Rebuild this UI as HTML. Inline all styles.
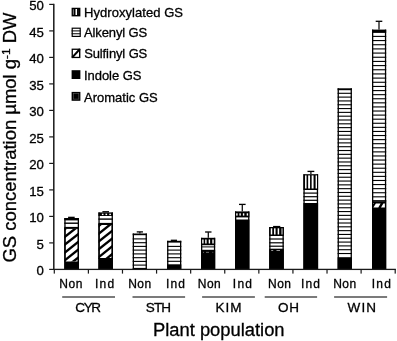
<!DOCTYPE html>
<html><head><meta charset="utf-8"><title>GS concentration</title>
<style>
html,body{margin:0;padding:0;background:#fff;}
body{width:397px;height:341px;overflow:hidden;}
svg{display:block;filter:grayscale(1);}
text{font-family:"Liberation Sans",sans-serif;fill:#000;stroke:#000;stroke-width:0.3px;}
</style></head><body>
<svg width="397" height="341" viewBox="0 0 397 341">
<rect x="0" y="0" width="397" height="341" fill="#fff"/>
<rect x="64.30" y="218.00" width="14.70" height="51.40" fill="#fff" />
<rect x="64.30" y="218.00" width="1.30" height="51.40" fill="#000" />
<rect x="77.70" y="218.00" width="1.30" height="51.40" fill="#000" />
<rect x="64.30" y="218.00" width="14.70" height="2.40" fill="#000" />
<rect x="64.30" y="222.50" width="14.70" height="1.40" fill="#000" />
<rect x="64.30" y="226.90" width="14.70" height="2.00" fill="#000" />
<clipPath id="h1"><rect x="64.30" y="228.90" width="14.70" height="32.70"/></clipPath>
<g clip-path="url(#h1)">
<polygon points="64.30,220.20 79.00,208.60 79.00,211.60 64.30,223.20" fill="#000"/>
<polygon points="64.30,228.00 79.00,216.40 79.00,219.40 64.30,231.00" fill="#000"/>
<polygon points="64.30,235.80 79.00,224.20 79.00,227.20 64.30,238.80" fill="#000"/>
<polygon points="64.30,243.60 79.00,232.00 79.00,235.00 64.30,246.60" fill="#000"/>
<polygon points="64.30,251.40 79.00,239.80 79.00,242.80 64.30,254.40" fill="#000"/>
<polygon points="64.30,259.20 79.00,247.60 79.00,250.60 64.30,262.20" fill="#000"/>
<polygon points="64.30,267.00 79.00,255.40 79.00,258.40 64.30,270.00" fill="#000"/>
<polygon points="64.30,274.80 79.00,263.20 79.00,266.20 64.30,277.80" fill="#000"/>
</g>
<rect x="64.30" y="228.00" width="1.30" height="34.00" fill="#000" />
<rect x="77.70" y="228.00" width="1.30" height="34.00" fill="#000" />
<rect x="64.30" y="261.50" width="14.70" height="7.90" fill="#000" />
<rect x="68.10" y="216.70" width="6.60" height="1.40" fill="#000" />
<rect x="98.40" y="212.40" width="14.50" height="57.00" fill="#fff" />
<rect x="98.40" y="212.40" width="1.30" height="57.00" fill="#000" />
<rect x="111.60" y="212.40" width="1.30" height="57.00" fill="#000" />
<rect x="98.40" y="212.40" width="14.50" height="3.60" fill="#000" />
<rect x="101.90" y="213.70" width="1.60" height="1.40" fill="#fff" />
<rect x="105.50" y="213.70" width="1.60" height="1.40" fill="#fff" />
<rect x="109.30" y="213.70" width="1.60" height="1.40" fill="#fff" />
<rect x="98.40" y="218.40" width="14.50" height="1.40" fill="#000" />
<rect x="98.40" y="222.90" width="14.50" height="2.10" fill="#000" />
<clipPath id="h2"><rect x="98.40" y="225.00" width="14.50" height="33.10"/></clipPath>
<g clip-path="url(#h2)">
<polygon points="98.40,216.90 112.90,205.30 112.90,208.30 98.40,219.90" fill="#000"/>
<polygon points="98.40,224.70 112.90,213.10 112.90,216.10 98.40,227.70" fill="#000"/>
<polygon points="98.40,232.50 112.90,220.90 112.90,223.90 98.40,235.50" fill="#000"/>
<polygon points="98.40,240.30 112.90,228.70 112.90,231.70 98.40,243.30" fill="#000"/>
<polygon points="98.40,248.10 112.90,236.50 112.90,239.50 98.40,251.10" fill="#000"/>
<polygon points="98.40,255.90 112.90,244.30 112.90,247.30 98.40,258.90" fill="#000"/>
<polygon points="98.40,263.70 112.90,252.10 112.90,255.10 98.40,266.70" fill="#000"/>
<polygon points="98.40,271.50 112.90,259.90 112.90,262.90 98.40,274.50" fill="#000"/>
</g>
<rect x="98.40" y="224.00" width="1.30" height="35.00" fill="#000" />
<rect x="111.60" y="224.00" width="1.30" height="35.00" fill="#000" />
<rect x="98.40" y="258.00" width="14.50" height="11.40" fill="#000" />
<rect x="102.40" y="211.10" width="6.60" height="1.40" fill="#000" />
<rect x="132.70" y="233.50" width="14.20" height="35.90" fill="#fff" />
<rect x="132.70" y="233.50" width="1.30" height="35.90" fill="#000" />
<rect x="145.60" y="233.50" width="1.30" height="35.90" fill="#000" />
<rect x="132.70" y="233.50" width="14.20" height="1.70" fill="#000" />
<rect x="132.70" y="238.35" width="14.20" height="1.10" fill="#000" />
<rect x="132.70" y="242.15" width="14.20" height="1.10" fill="#000" />
<rect x="132.70" y="245.85" width="14.20" height="1.10" fill="#000" />
<rect x="132.70" y="249.55" width="14.20" height="1.10" fill="#000" />
<rect x="132.70" y="253.35" width="14.20" height="1.10" fill="#000" />
<rect x="132.70" y="257.15" width="14.20" height="1.10" fill="#000" />
<rect x="132.70" y="260.85" width="14.20" height="1.10" fill="#000" />
<rect x="132.70" y="264.55" width="14.20" height="1.10" fill="#000" />
<rect x="132.70" y="267.90" width="14.20" height="1.50" fill="#000" />
<rect x="136.75" y="231.25" width="6.20" height="1.30" fill="#000" />
<rect x="139.20" y="231.90" width="1.30" height="1.60" fill="#111" />
<rect x="167.10" y="240.80" width="14.20" height="28.60" fill="#fff" />
<rect x="167.10" y="240.80" width="1.30" height="28.60" fill="#000" />
<rect x="180.00" y="240.80" width="1.30" height="28.60" fill="#000" />
<rect x="167.10" y="240.80" width="14.20" height="1.80" fill="#000" />
<rect x="167.10" y="245.85" width="14.20" height="1.10" fill="#000" />
<rect x="167.10" y="249.55" width="14.20" height="1.10" fill="#000" />
<rect x="167.10" y="253.35" width="14.20" height="1.10" fill="#000" />
<rect x="167.10" y="257.15" width="14.20" height="1.10" fill="#000" />
<rect x="167.10" y="260.75" width="14.20" height="1.10" fill="#000" />
<rect x="167.10" y="264.30" width="14.20" height="5.10" fill="#000" />
<rect x="170.80" y="239.65" width="6.20" height="1.30" fill="#000" />
<rect x="201.00" y="237.80" width="14.20" height="31.60" fill="#fff" />
<rect x="201.00" y="237.80" width="1.30" height="31.60" fill="#000" />
<rect x="213.90" y="237.80" width="1.30" height="31.60" fill="#000" />
<rect x="201.00" y="237.80" width="14.20" height="7.40" fill="#000" />
<rect x="202.20" y="239.50" width="1.40" height="4.00" fill="#fff" />
<rect x="205.20" y="239.50" width="1.40" height="4.00" fill="#fff" />
<rect x="208.70" y="239.50" width="1.40" height="4.00" fill="#fff" />
<rect x="212.30" y="239.50" width="1.40" height="4.00" fill="#fff" />
<rect x="201.00" y="246.40" width="14.20" height="1.00" fill="#000" />
<rect x="201.00" y="249.80" width="14.20" height="19.60" fill="#000" />
<rect x="203.20" y="251.90" width="0.80" height="0.70" fill="#aaa" />
<rect x="206.00" y="251.90" width="3.00" height="0.70" fill="#999" />
<rect x="212.50" y="251.90" width="0.70" height="0.70" fill="#aaa" />
<rect x="205.10" y="231.35" width="6.40" height="1.30" fill="#000" />
<rect x="207.65" y="232.00" width="1.30" height="5.80" fill="#111" />
<rect x="235.00" y="211.40" width="14.40" height="58.00" fill="#fff" />
<rect x="235.00" y="211.40" width="1.30" height="58.00" fill="#000" />
<rect x="248.10" y="211.40" width="1.30" height="58.00" fill="#000" />
<rect x="235.00" y="211.40" width="14.40" height="6.00" fill="#000" />
<rect x="236.20" y="213.30" width="1.40" height="2.30" fill="#fff" />
<rect x="239.40" y="213.30" width="1.40" height="2.30" fill="#fff" />
<rect x="242.90" y="213.30" width="1.40" height="2.30" fill="#fff" />
<rect x="246.70" y="213.30" width="1.40" height="2.30" fill="#fff" />
<rect x="235.00" y="219.50" width="14.40" height="49.90" fill="#000" />
<rect x="239.00" y="203.75" width="6.60" height="1.30" fill="#000" />
<rect x="241.65" y="204.40" width="1.30" height="7.00" fill="#111" />
<rect x="269.20" y="227.00" width="14.60" height="42.40" fill="#fff" />
<rect x="269.20" y="227.00" width="1.30" height="42.40" fill="#000" />
<rect x="282.50" y="227.00" width="1.30" height="42.40" fill="#000" />
<rect x="269.20" y="227.00" width="14.60" height="9.00" fill="#000" />
<rect x="270.75" y="228.30" width="1.50" height="6.20" fill="#fff" />
<rect x="274.05" y="228.30" width="1.50" height="6.20" fill="#fff" />
<rect x="277.65" y="228.30" width="1.50" height="6.20" fill="#fff" />
<rect x="281.40" y="228.30" width="1.20" height="6.20" fill="#bbb" />
<rect x="269.20" y="238.40" width="14.60" height="1.20" fill="#000" />
<rect x="269.20" y="242.20" width="14.60" height="1.20" fill="#000" />
<rect x="269.20" y="245.60" width="14.60" height="1.20" fill="#000" />
<rect x="269.20" y="248.70" width="14.60" height="20.70" fill="#000" />
<rect x="271.20" y="250.20" width="2.00" height="0.80" fill="#bbb" />
<rect x="276.50" y="250.20" width="3.50" height="0.80" fill="#bbb" />
<rect x="273.10" y="225.90" width="7.20" height="1.40" fill="#000" />
<rect x="303.40" y="174.20" width="14.70" height="95.20" fill="#fff" />
<rect x="303.40" y="174.20" width="1.30" height="95.20" fill="#000" />
<rect x="316.80" y="174.20" width="1.30" height="95.20" fill="#000" />
<rect x="303.40" y="174.20" width="14.70" height="15.80" fill="#000" />
<rect x="305.05" y="175.40" width="1.50" height="13.10" fill="#fff" />
<rect x="308.15" y="175.40" width="1.90" height="13.10" fill="#fff" />
<rect x="311.65" y="175.40" width="1.90" height="13.10" fill="#fff" />
<rect x="315.60" y="175.40" width="1.40" height="13.10" fill="#fff" />
<rect x="303.40" y="192.50" width="14.70" height="1.20" fill="#000" />
<rect x="303.40" y="196.10" width="14.70" height="1.20" fill="#000" />
<rect x="303.40" y="199.70" width="14.70" height="1.20" fill="#000" />
<rect x="303.40" y="203.00" width="14.70" height="66.40" fill="#000" />
<rect x="307.50" y="170.75" width="6.80" height="1.30" fill="#000" />
<rect x="310.25" y="171.40" width="1.30" height="2.80" fill="#111" />
<rect x="337.60" y="88.30" width="14.30" height="181.10" fill="#fff" />
<rect x="337.60" y="88.30" width="1.30" height="181.10" fill="#000" />
<rect x="350.60" y="88.30" width="1.30" height="181.10" fill="#000" />
<rect x="337.60" y="88.30" width="14.30" height="1.90" fill="#000" />
<rect x="337.60" y="92.75" width="14.30" height="1.10" fill="#000" />
<rect x="337.60" y="96.56" width="14.30" height="1.10" fill="#000" />
<rect x="337.60" y="100.38" width="14.30" height="1.10" fill="#000" />
<rect x="337.60" y="104.20" width="14.30" height="1.10" fill="#000" />
<rect x="337.60" y="108.01" width="14.30" height="1.10" fill="#000" />
<rect x="337.60" y="111.83" width="14.30" height="1.10" fill="#000" />
<rect x="337.60" y="115.64" width="14.30" height="1.10" fill="#000" />
<rect x="337.60" y="119.45" width="14.30" height="1.10" fill="#000" />
<rect x="337.60" y="123.27" width="14.30" height="1.10" fill="#000" />
<rect x="337.60" y="127.08" width="14.30" height="1.10" fill="#000" />
<rect x="337.60" y="130.90" width="14.30" height="1.10" fill="#000" />
<rect x="337.60" y="134.71" width="14.30" height="1.10" fill="#000" />
<rect x="337.60" y="138.53" width="14.30" height="1.10" fill="#000" />
<rect x="337.60" y="142.34" width="14.30" height="1.10" fill="#000" />
<rect x="337.60" y="146.16" width="14.30" height="1.10" fill="#000" />
<rect x="337.60" y="149.97" width="14.30" height="1.10" fill="#000" />
<rect x="337.60" y="153.79" width="14.30" height="1.10" fill="#000" />
<rect x="337.60" y="157.60" width="14.30" height="1.10" fill="#000" />
<rect x="337.60" y="161.42" width="14.30" height="1.10" fill="#000" />
<rect x="337.60" y="165.23" width="14.30" height="1.10" fill="#000" />
<rect x="337.60" y="169.05" width="14.30" height="1.10" fill="#000" />
<rect x="337.60" y="172.86" width="14.30" height="1.10" fill="#000" />
<rect x="337.60" y="176.68" width="14.30" height="1.10" fill="#000" />
<rect x="337.60" y="180.50" width="14.30" height="1.10" fill="#000" />
<rect x="337.60" y="184.31" width="14.30" height="1.10" fill="#000" />
<rect x="337.60" y="188.12" width="14.30" height="1.10" fill="#000" />
<rect x="337.60" y="191.94" width="14.30" height="1.10" fill="#000" />
<rect x="337.60" y="195.75" width="14.30" height="1.10" fill="#000" />
<rect x="337.60" y="199.57" width="14.30" height="1.10" fill="#000" />
<rect x="337.60" y="203.38" width="14.30" height="1.10" fill="#000" />
<rect x="337.60" y="207.20" width="14.30" height="1.10" fill="#000" />
<rect x="337.60" y="211.01" width="14.30" height="1.10" fill="#000" />
<rect x="337.60" y="214.83" width="14.30" height="1.10" fill="#000" />
<rect x="337.60" y="218.64" width="14.30" height="1.10" fill="#000" />
<rect x="337.60" y="222.46" width="14.30" height="1.10" fill="#000" />
<rect x="337.60" y="226.27" width="14.30" height="1.10" fill="#000" />
<rect x="337.60" y="230.09" width="14.30" height="1.10" fill="#000" />
<rect x="337.60" y="233.90" width="14.30" height="1.10" fill="#000" />
<rect x="337.60" y="237.72" width="14.30" height="1.10" fill="#000" />
<rect x="337.60" y="241.53" width="14.30" height="1.10" fill="#000" />
<rect x="337.60" y="245.35" width="14.30" height="1.10" fill="#000" />
<rect x="337.60" y="249.16" width="14.30" height="1.10" fill="#000" />
<rect x="337.60" y="252.98" width="14.30" height="1.10" fill="#000" />
<rect x="337.60" y="257.20" width="14.30" height="12.20" fill="#000" />
<rect x="372.00" y="29.60" width="14.20" height="239.80" fill="#fff" />
<rect x="372.00" y="29.60" width="1.30" height="239.80" fill="#000" />
<rect x="384.90" y="29.60" width="1.30" height="239.80" fill="#000" />
<rect x="372.00" y="29.60" width="14.20" height="3.30" fill="#000" />
<rect x="372.00" y="35.85" width="14.20" height="1.10" fill="#000" />
<rect x="372.00" y="40.02" width="14.20" height="1.10" fill="#000" />
<rect x="372.00" y="44.19" width="14.20" height="1.10" fill="#000" />
<rect x="372.00" y="48.36" width="14.20" height="1.10" fill="#000" />
<rect x="372.00" y="52.53" width="14.20" height="1.10" fill="#000" />
<rect x="372.00" y="56.70" width="14.20" height="1.10" fill="#000" />
<rect x="372.00" y="60.87" width="14.20" height="1.10" fill="#000" />
<rect x="372.00" y="65.04" width="14.20" height="1.10" fill="#000" />
<rect x="372.00" y="69.21" width="14.20" height="1.10" fill="#000" />
<rect x="372.00" y="73.38" width="14.20" height="1.10" fill="#000" />
<rect x="372.00" y="77.55" width="14.20" height="1.10" fill="#000" />
<rect x="372.00" y="81.72" width="14.20" height="1.10" fill="#000" />
<rect x="372.00" y="85.89" width="14.20" height="1.10" fill="#000" />
<rect x="372.00" y="90.04" width="14.20" height="1.10" fill="#000" />
<rect x="372.00" y="94.12" width="14.20" height="1.10" fill="#000" />
<rect x="372.00" y="98.21" width="14.20" height="1.10" fill="#000" />
<rect x="372.00" y="102.29" width="14.20" height="1.10" fill="#000" />
<rect x="372.00" y="106.38" width="14.20" height="1.10" fill="#000" />
<rect x="372.00" y="110.47" width="14.20" height="1.10" fill="#000" />
<rect x="372.00" y="114.55" width="14.20" height="1.10" fill="#000" />
<rect x="372.00" y="118.64" width="14.20" height="1.10" fill="#000" />
<rect x="372.00" y="122.72" width="14.20" height="1.10" fill="#000" />
<rect x="372.00" y="126.81" width="14.20" height="1.10" fill="#000" />
<rect x="372.00" y="130.90" width="14.20" height="1.10" fill="#000" />
<rect x="372.00" y="134.98" width="14.20" height="1.10" fill="#000" />
<rect x="372.00" y="139.07" width="14.20" height="1.10" fill="#000" />
<rect x="372.00" y="143.15" width="14.20" height="1.10" fill="#000" />
<rect x="372.00" y="147.24" width="14.20" height="1.10" fill="#000" />
<rect x="372.00" y="151.33" width="14.20" height="1.10" fill="#000" />
<rect x="372.00" y="155.41" width="14.20" height="1.10" fill="#000" />
<rect x="372.00" y="159.50" width="14.20" height="1.10" fill="#000" />
<rect x="372.00" y="163.58" width="14.20" height="1.10" fill="#000" />
<rect x="372.00" y="167.67" width="14.20" height="1.10" fill="#000" />
<rect x="372.00" y="171.76" width="14.20" height="1.10" fill="#000" />
<rect x="372.00" y="175.84" width="14.20" height="1.10" fill="#000" />
<rect x="372.00" y="179.93" width="14.20" height="1.10" fill="#000" />
<rect x="372.00" y="184.01" width="14.20" height="1.10" fill="#000" />
<rect x="372.00" y="188.10" width="14.20" height="1.10" fill="#000" />
<rect x="372.00" y="192.19" width="14.20" height="1.10" fill="#000" />
<rect x="372.00" y="196.27" width="14.20" height="1.10" fill="#000" />
<rect x="372.00" y="200.36" width="14.20" height="1.10" fill="#000" />
<rect x="372.00" y="200.00" width="14.20" height="69.40" fill="#000" />
<polygon points="373.4,207.5 378.3,207.5 380.6,203.4 375.9,203.4" fill="#fff"/>
<polygon points="381.0,207.5 384.9,207.5 384.9,203.4 383.4,203.4" fill="#fff"/>
<rect x="373.30" y="203.20" width="0.70" height="0.70" fill="#ccc" />
<rect x="373.30" y="200.75" width="11.60" height="0.50" fill="#888" />
<rect x="375.70" y="20.65" width="6.60" height="1.30" fill="#000" />
<rect x="378.35" y="21.30" width="1.30" height="8.30" fill="#111" />
<rect x="53.05" y="3.80" width="1.50" height="266.20" fill="#1a1a1a" />
<rect x="53.80" y="268.75" width="342.10" height="1.30" fill="#1a1a1a" />
<rect x="49.20" y="268.80" width="4.60" height="1.20" fill="#1a1a1a" />
<rect x="49.20" y="242.30" width="4.60" height="1.20" fill="#1a1a1a" />
<rect x="49.20" y="215.80" width="4.60" height="1.20" fill="#1a1a1a" />
<rect x="49.20" y="189.30" width="4.60" height="1.20" fill="#1a1a1a" />
<rect x="49.20" y="162.80" width="4.60" height="1.20" fill="#1a1a1a" />
<rect x="49.20" y="136.30" width="4.60" height="1.20" fill="#1a1a1a" />
<rect x="49.20" y="109.80" width="4.60" height="1.20" fill="#1a1a1a" />
<rect x="49.20" y="83.30" width="4.60" height="1.20" fill="#1a1a1a" />
<rect x="49.20" y="56.80" width="4.60" height="1.20" fill="#1a1a1a" />
<rect x="49.20" y="30.30" width="4.60" height="1.20" fill="#1a1a1a" />
<rect x="49.20" y="3.80" width="4.60" height="1.20" fill="#1a1a1a" />
<rect x="53.70" y="269.40" width="1.20" height="4.20" fill="#1a1a1a" />
<rect x="87.79" y="269.40" width="1.20" height="4.20" fill="#1a1a1a" />
<rect x="121.88" y="269.40" width="1.20" height="4.20" fill="#1a1a1a" />
<rect x="155.97" y="269.40" width="1.20" height="4.20" fill="#1a1a1a" />
<rect x="190.06" y="269.40" width="1.20" height="4.20" fill="#1a1a1a" />
<rect x="224.15" y="269.40" width="1.20" height="4.20" fill="#1a1a1a" />
<rect x="258.24" y="269.40" width="1.20" height="4.20" fill="#1a1a1a" />
<rect x="292.33" y="269.40" width="1.20" height="4.20" fill="#1a1a1a" />
<rect x="326.42" y="269.40" width="1.20" height="4.20" fill="#1a1a1a" />
<rect x="360.51" y="269.40" width="1.20" height="4.20" fill="#1a1a1a" />
<rect x="394.60" y="269.40" width="1.20" height="4.20" fill="#1a1a1a" />
<text x="43.90" y="275.10" font-size="13.2" text-anchor="end" >0</text>
<text x="43.90" y="248.60" font-size="13.2" text-anchor="end" >5</text>
<text x="43.90" y="222.10" font-size="13.2" text-anchor="end" >10</text>
<text x="43.90" y="195.60" font-size="13.2" text-anchor="end" >15</text>
<text x="43.90" y="169.10" font-size="13.2" text-anchor="end" >20</text>
<text x="43.90" y="142.60" font-size="13.2" text-anchor="end" >25</text>
<text x="43.90" y="116.10" font-size="13.2" text-anchor="end" >30</text>
<text x="43.90" y="89.60" font-size="13.2" text-anchor="end" >35</text>
<text x="43.90" y="63.10" font-size="13.2" text-anchor="end" >40</text>
<text x="43.90" y="36.60" font-size="13.2" text-anchor="end" >45</text>
<text x="43.90" y="10.10" font-size="13.2" text-anchor="end" >50</text>
<text x="71.10" y="288.20" font-size="12" text-anchor="middle" letter-spacing="0.5">Non</text>
<text x="139.90" y="288.20" font-size="12" text-anchor="middle" letter-spacing="0.5">Non</text>
<text x="209.50" y="288.20" font-size="12" text-anchor="middle" letter-spacing="0.5">Non</text>
<text x="279.75" y="288.20" font-size="12" text-anchor="middle" letter-spacing="0.5">Non</text>
<text x="344.95" y="288.20" font-size="12" text-anchor="middle" letter-spacing="0.5">Non</text>
<text x="105.15" y="288.20" font-size="12" text-anchor="middle" letter-spacing="1.2">Ind</text>
<text x="176.03" y="288.20" font-size="12" text-anchor="middle" letter-spacing="1.2">Ind</text>
<text x="243.00" y="288.20" font-size="12" text-anchor="middle" letter-spacing="1.2">Ind</text>
<text x="311.03" y="288.20" font-size="12" text-anchor="middle" letter-spacing="1.2">Ind</text>
<text x="381.98" y="288.20" font-size="12" text-anchor="middle" letter-spacing="1.2">Ind</text>
<rect x="62.20" y="296.30" width="52.80" height="1.40" fill="#444" />
<rect x="132.50" y="296.30" width="52.60" height="1.40" fill="#444" />
<rect x="202.10" y="296.30" width="52.80" height="1.40" fill="#444" />
<rect x="264.70" y="296.30" width="52.40" height="1.40" fill="#444" />
<rect x="334.10" y="296.30" width="53.00" height="1.40" fill="#444" />
<text x="87.50" y="312.20" font-size="13.5" text-anchor="middle" letter-spacing="-1.3">CYR</text>
<text x="158.00" y="312.20" font-size="13.5" text-anchor="middle" letter-spacing="-0.8">STH</text>
<text x="228.95" y="312.20" font-size="13.5" text-anchor="middle" letter-spacing="0.9">KIM</text>
<text x="288.95" y="312.20" font-size="13.5" text-anchor="middle" letter-spacing="0.8">OH</text>
<text x="362.35" y="312.20" font-size="13.5" text-anchor="middle" letter-spacing="1.1">WIN</text>
<text x="218.80" y="335.50" font-size="18.35" text-anchor="middle" >Plant population</text>
<text transform="translate(16.0,262.5) rotate(-90)" font-size="18" textLength="250" lengthAdjust="spacingAndGlyphs">GS concentration µmol g<tspan font-size="11.5" dy="-6.5">-1</tspan><tspan dy="6.5"> DW</tspan></text>
<text x="84.00" y="16.90" font-size="13" text-anchor="start" letter-spacing="0.05">Hydroxylated GS</text>
<text x="84.00" y="36.80" font-size="13" text-anchor="start" letter-spacing="-0.12">Alkenyl GS</text>
<text x="84.20" y="57.80" font-size="13" text-anchor="start" letter-spacing="-0.12">Sulfinyl GS</text>
<text x="84.00" y="79.80" font-size="13" text-anchor="start" letter-spacing="-0.05">Indole GS</text>
<text x="84.00" y="101.50" font-size="13" text-anchor="start" letter-spacing="0">Aromatic GS</text>
<rect x="71.60" y="7.75" width="8.80" height="8.65" fill="#000" />
<rect x="75.50" y="9.00" width="1.50" height="6.00" fill="#fff" />
<rect x="72.90" y="9.20" width="0.90" height="5.60" fill="#8a8a8a" />
<rect x="77.80" y="9.40" width="0.50" height="5.20" fill="#3a3a3a" />
<rect x="71.60" y="27.60" width="9.20" height="9.40" fill="#000" />
<rect x="72.80" y="28.80" width="6.80" height="7.00" fill="#fff" />
<rect x="71.60" y="30.40" width="8.80" height="1.00" fill="#000" />
<rect x="71.60" y="33.25" width="8.80" height="1.00" fill="#000" />
<rect x="71.60" y="48.60" width="8.80" height="9.50" fill="#000" />
<rect x="72.90" y="49.90" width="6.10" height="6.90" fill="#fff" />
<line x1="72.1" y1="57.7" x2="79.9" y2="49.0" stroke="#000" stroke-width="2.0"/>
<rect x="71.60" y="70.20" width="8.80" height="8.80" fill="#000" />
<rect x="71.60" y="91.90" width="8.80" height="8.90" fill="#000" />
<rect x="73.3" y="93.3" width="5.5" height="5.8" fill="none" stroke="#5a5a5a" stroke-width="0.6"/>
</svg>
</body></html>
